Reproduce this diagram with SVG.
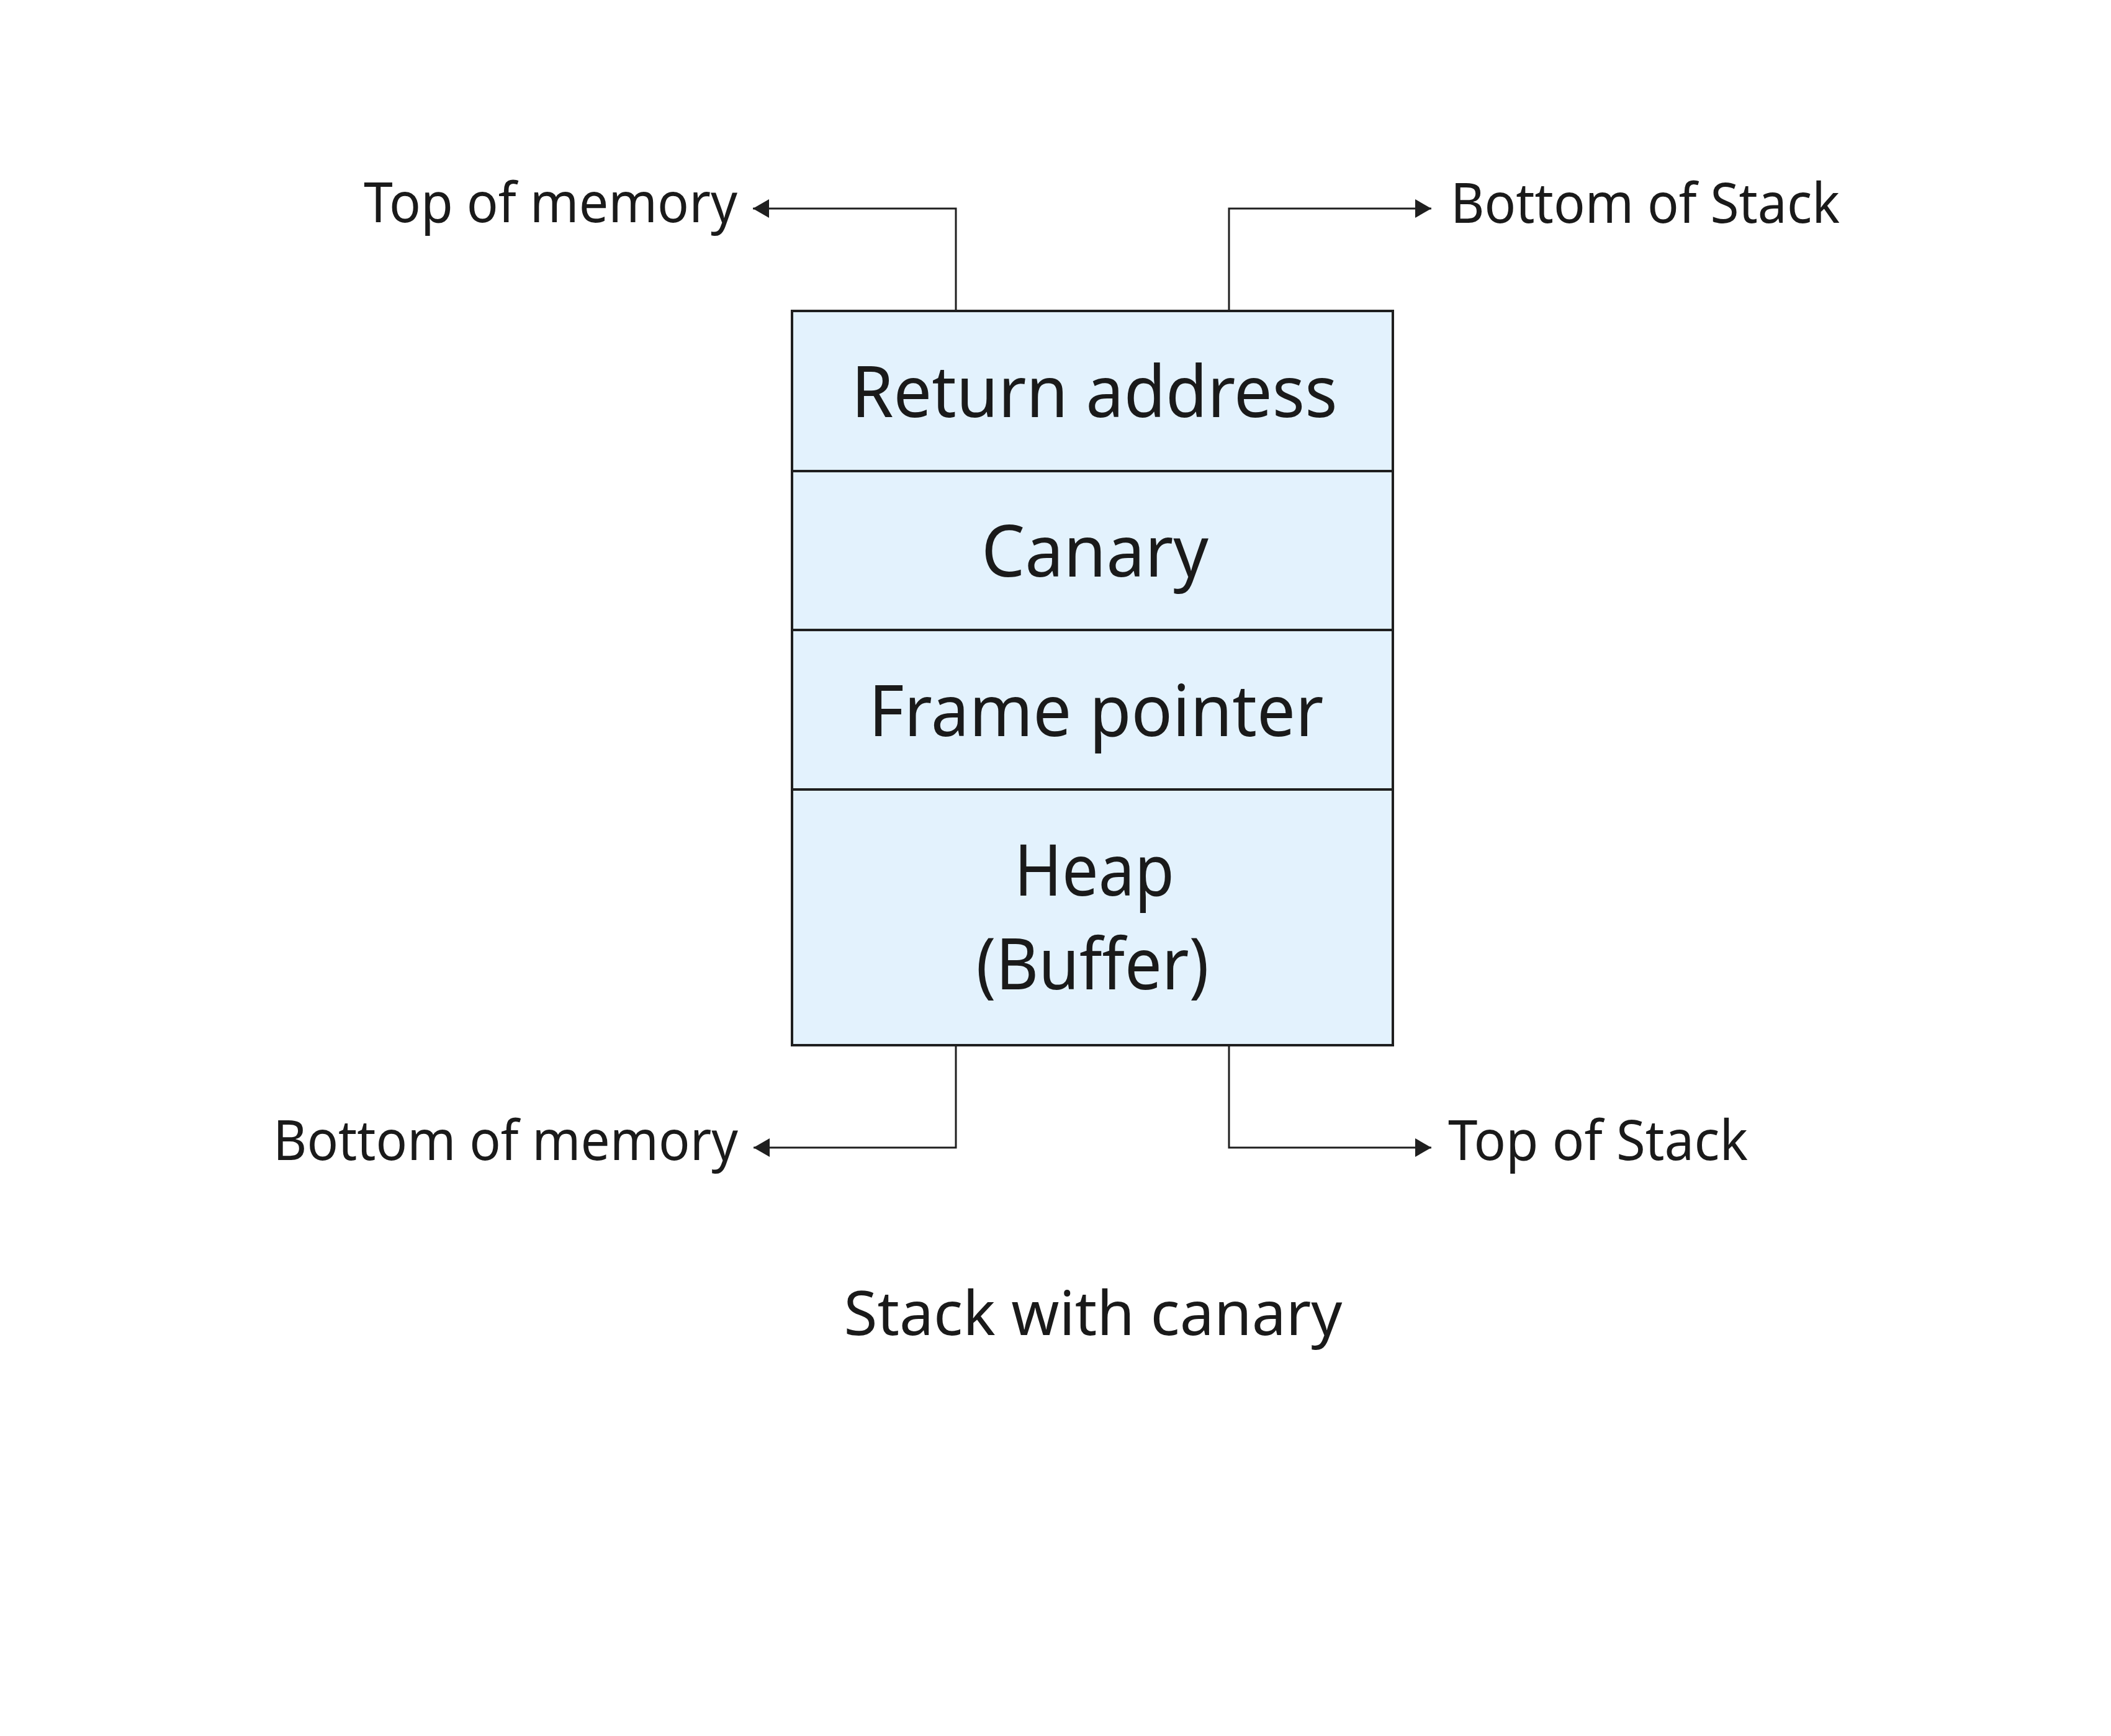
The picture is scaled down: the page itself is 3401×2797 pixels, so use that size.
<svg xmlns="http://www.w3.org/2000/svg" width="3401" height="2797" viewBox="0 0 3401 2797">
<defs>
<style>
.cell{fill:#E3F2FD;stroke:#1f1f1f;stroke-width:4}
.big{font-family:"Noto Sans","Open Sans",sans-serif;font-size:116px;fill:#1a1a1a;text-anchor:middle}
.lbl{font-family:"Noto Sans","Open Sans",sans-serif;font-size:89px;fill:#1a1a1a}
.cap{font-family:"Noto Sans","Open Sans",sans-serif;font-size:98px;fill:#1a1a1a;text-anchor:middle}
.con{fill:none;stroke:#1f1f1f;stroke-width:3}
</style>
<marker id="ah" viewBox="0 0 26 30" refX="26" refY="15" markerWidth="26" markerHeight="30" markerUnits="userSpaceOnUse" orient="auto">
<path d="M0,0 L26,15 L0,30 Z" fill="#1f1f1f"/>
</marker>
</defs>
<rect width="3401" height="2797" fill="#ffffff"/>
<g id="connectors">
<path class="con" d="M1540,501 V336 H1213" marker-end="url(#ah)"/>
<path class="con" d="M1980,501 V336 H2306" marker-end="url(#ah)"/>
<path class="con" d="M1540,1684 V1849 H1214" marker-end="url(#ah)"/>
<path class="con" d="M1980,1684 V1849 H2306" marker-end="url(#ah)"/>
</g>
<g id="return-address">
<rect class="cell" x="1276" y="501" width="968" height="258"/>
<text class="big" x="1763" y="672" textLength="783" lengthAdjust="spacingAndGlyphs">Return address</text>
</g>
<g id="canary">
<rect class="cell" x="1276" y="759" width="968" height="256"/>
<text class="big" x="1764" y="929" textLength="366" lengthAdjust="spacingAndGlyphs">Canary</text>
</g>
<g id="frame-pointer">
<rect class="cell" x="1276" y="1015" width="968" height="257"/>
<text class="big" x="1766" y="1186" textLength="733" lengthAdjust="spacingAndGlyphs">Frame pointer</text>
</g>
<g id="heap">
<rect class="cell" x="1276" y="1272" width="968" height="412"/>
<text class="big" x="1763" y="1443" textLength="258" lengthAdjust="spacingAndGlyphs">Heap</text>
<text class="big" x="1760" y="1594" textLength="375" lengthAdjust="spacingAndGlyphs">(Buffer)</text>
</g>
<g id="top-of-memory">
<text class="lbl" x="1188" y="358" text-anchor="end" textLength="602" lengthAdjust="spacingAndGlyphs">Top of memory</text>
</g>
<g id="bottom-of-stack">
<text class="lbl" x="2337" y="359" textLength="627" lengthAdjust="spacingAndGlyphs">Bottom of Stack</text>
</g>
<g id="bottom-of-memory">
<text class="lbl" x="1189" y="1869" text-anchor="end" textLength="749" lengthAdjust="spacingAndGlyphs">Bottom of memory</text>
</g>
<g id="top-of-stack">
<text class="lbl" x="2333" y="1869" textLength="483" lengthAdjust="spacingAndGlyphs">Top of Stack</text>
</g>
<g id="caption">
<text class="cap" x="1761" y="2151" textLength="803" lengthAdjust="spacingAndGlyphs">Stack with canary</text>
</g>
</svg>
